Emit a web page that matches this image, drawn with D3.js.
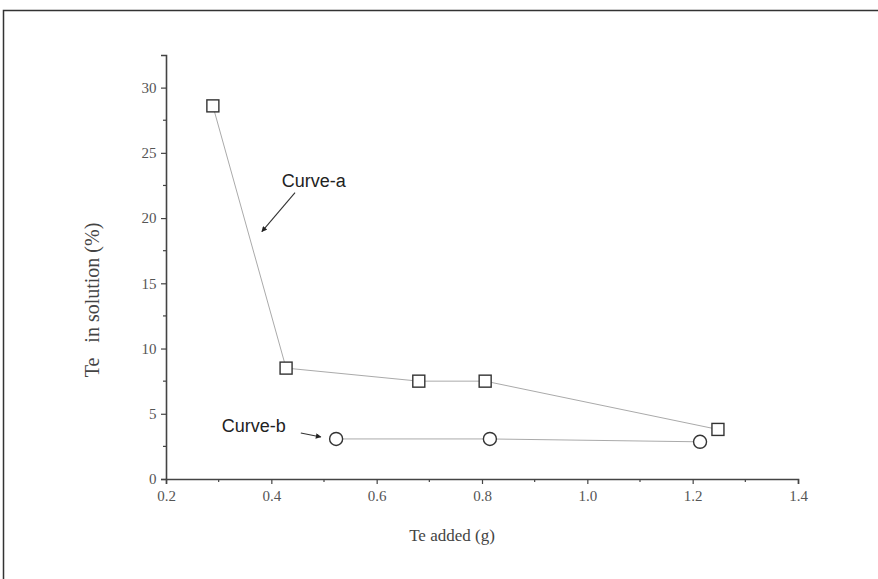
<!DOCTYPE html>
<html>
<head>
<meta charset="utf-8">
<script src="https://cdn.jsdelivr.net/npm/d3@7"></script>
<style>
  body { margin: 0; background: #fff; }
</style>
</head>
<body>
<div id="vis"></div>
<script>
// data
let curveA_x = [0.289, 0.428, 0.68, 0.806, 1.248];
let curveA_y = [28.6, 8.5, 7.5, 7.5, 3.8];
let curveB_x = [0.523, 0.815, 1.214];
let curveB_y = [3.07, 3.07, 2.85];

let xTicks = [0.2, 0.4, 0.6, 0.8, 1.0, 1.2, 1.4];
let xMinor = [0.3, 0.5, 0.7, 0.9, 1.1, 1.3];
let yTicks = [0, 5, 10, 15, 20, 25, 30];
let yMinor = [2.5, 7.5, 12.5, 17.5, 22.5, 27.5];

let W = 878, H = 579;
let serif = '"Liberation Serif", "Times New Roman", serif';
let sans = '"Liberation Sans", Arial, sans-serif';

let svg = d3
  .select('#vis')
  .append('svg')
  .attr('width', W)
  .attr('height', H);

// frame (runs off right and bottom)
svg.append('rect')
  .attr('x', 3.5).attr('y', 10.5)
  .attr('width', W + 10).attr('height', H + 10)
  .attr('fill', 'none')
  .attr('stroke', '#333')
  .attr('stroke-width', 1.5);

let x = d3.scaleLinear().domain([0.2, 1.4]).range([166, 798]);
let y = d3.scaleLinear().domain([0, 32.5]).range([479, 55]);

// x axis
let xAxis = svg.append('g').attr('transform', 'translate(0,' + y(0) + ')');
xAxis.call(d3.axisBottom(x).tickValues(xTicks).tickSize(5).tickFormat(d3.format('.1f')));
xAxis.append('g').selectAll('line')
  .data(xMinor).join('line')
  .attr('x1', d => x(d)).attr('x2', d => x(d))
  .attr('y1', 0).attr('y2', 3);

// y axis
let yAxis = svg.append('g').attr('transform', 'translate(' + x(0.2) + ',0)');
yAxis.call(d3.axisLeft(y).tickValues(yTicks).tickSize(5).tickFormat(d3.format('d')));
yAxis.append('g').selectAll('line')
  .data(yMinor).join('line')
  .attr('x1', 0).attr('x2', -3)
  .attr('y1', d => y(d)).attr('y2', d => y(d));

svg.selectAll('.domain').attr('stroke', '#444').attr('stroke-width', 1.6);
svg.selectAll('.tick line').attr('stroke', '#444').attr('stroke-width', 1.2);
xAxis.selectAll('g > line').attr('stroke', '#444').attr('stroke-width', 1.2);
yAxis.selectAll('g > line').attr('stroke', '#444').attr('stroke-width', 1.2);
svg.selectAll('.tick text')
  .style('font-family', serif)
  .style('font-size', '15px')
  .attr('fill', '#555');
xAxis.selectAll('.tick text').attr('dy', '0.95em');
yAxis.selectAll('.tick text').attr('dx', '-0.1em');

// axis titles
svg.append('text')
  .attr('x', 452).attr('y', 541)
  .attr('text-anchor', 'middle')
  .style('font-family', serif)
  .style('font-size', '17px')
  .attr('fill', '#444')
  .text('Te added (g)');

svg.append('text')
  .attr('transform', 'translate(99,300) rotate(-90)')
  .attr('text-anchor', 'middle')
  .style('font-family', serif)
  .style('font-size', '20px')
  .attr('fill', '#444')
  .attr('xml:space', 'preserve')
  .text('Te   in solution (%)');

let line = d3.line().x(d => x(d[0])).y(d => y(d[1]));
let ptsA = curveA_x.map((v, i) => [v, curveA_y[i]]);
let ptsB = curveB_x.map((v, i) => [v, curveB_y[i]]);

svg.append('path')
  .datum(ptsA)
  .attr('d', line)
  .attr('fill', 'none')
  .attr('stroke', '#aaa')
  .attr('stroke-width', 1);

svg.append('path')
  .datum(ptsB)
  .attr('d', line)
  .attr('fill', 'none')
  .attr('stroke', '#aaa')
  .attr('stroke-width', 1);

// markers
svg.append('g').selectAll('rect')
  .data(ptsA).join('rect')
  .attr('x', d => x(d[0]) - 6).attr('y', d => y(d[1]) - 6)
  .attr('width', 12).attr('height', 12)
  .attr('fill', '#fff')
  .attr('stroke', '#333')
  .attr('stroke-width', 1.4);

svg.append('g').selectAll('circle')
  .data(ptsB).join('circle')
  .attr('cx', d => x(d[0])).attr('cy', d => y(d[1]))
  .attr('r', 6.5)
  .attr('fill', '#fff')
  .attr('stroke', '#333')
  .attr('stroke-width', 1.4);

// annotations
svg.append('defs').append('marker')
  .attr('id', 'head')
  .attr('viewBox', '0 0 10 10')
  .attr('refX', 9).attr('refY', 5)
  .attr('markerWidth', 7).attr('markerHeight', 5)
  .attr('orient', 'auto')
  .append('path')
  .attr('d', 'M0,0 L10,5 L0,10 z')
  .attr('fill', '#222');

svg.append('text')
  .attr('x', x(0.42)).attr('y', y(22.4))
  .style('font-family', sans)
  .style('font-size', '18px')
  .attr('fill', '#222')
  .text('Curve-a');

svg.append('line')
  .attr('x1', x(0.445)).attr('y1', y(21.95))
  .attr('x2', x(0.382)).attr('y2', y(18.96))
  .attr('stroke', '#333').attr('stroke-width', 1.1)
  .attr('marker-end', 'url(#head)');

svg.append('text')
  .attr('x', x(0.306)).attr('y', y(3.6))
  .style('font-family', sans)
  .style('font-size', '18px')
  .attr('fill', '#222')
  .text('Curve-b');

svg.append('line')
  .attr('x1', x(0.456)).attr('y1', y(3.53))
  .attr('x2', x(0.494)).attr('y2', y(3.22))
  .attr('stroke', '#333').attr('stroke-width', 1.1)
  .attr('marker-end', 'url(#head)');
</script>
</body>
</html>
